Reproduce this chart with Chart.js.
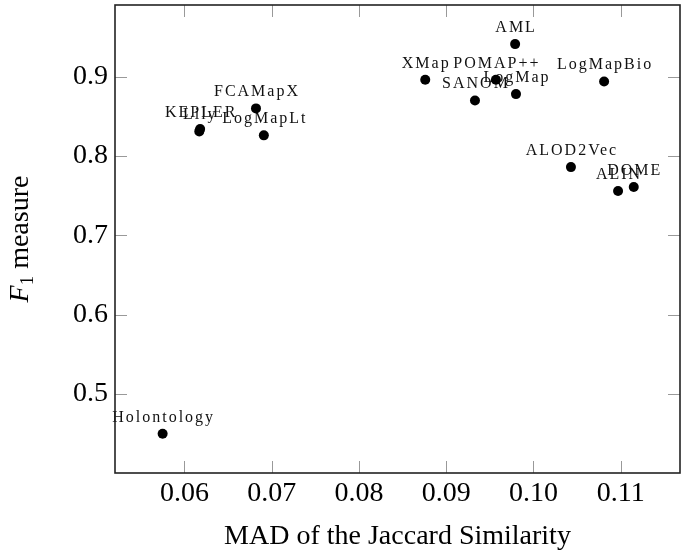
<!DOCTYPE html>
<html>
<head>
<meta charset="utf-8">
<script src="https://cdn.jsdelivr.net/npm/chart.js@4.4.1/dist/chart.umd.min.js"></script>
<style>
  html, body { margin: 0; padding: 0; background: #fff; }
  canvas { display: block; }
</style>
</head>
<body>
<canvas id="scatterChart" width="685" height="551"></canvas>
<script>
// systems and their values
const systems = ['AML', 'LogMap', 'LogMapBio', 'POMAP++', 'XMap', 'SANOM', 'FCAMapX',
                 'KEPLER', 'Lily', 'LogMapLt', 'ALOD2Vec', 'DOME', 'ALIN', 'Holontology'];
const madJaccard = [0.0979, 0.0980, 0.1081, 0.0957, 0.0876, 0.0933, 0.0682,
                    0.0618, 0.0617, 0.0691, 0.1043, 0.1115, 0.1097, 0.0575];
const f1Measure = [0.941, 0.878, 0.894, 0.896, 0.896, 0.870, 0.860,
                   0.834, 0.831, 0.826, 0.786, 0.761, 0.756, 0.450];

const xTicks = [0.06, 0.07, 0.08, 0.09, 0.10, 0.11];
const yTicks = [0.5, 0.6, 0.7, 0.8, 0.9];
const xRange = [0.05204, 0.1168];
const yRange = [0.4005, 0.9903];

const serif = '"Liberation Serif", "DejaVu Serif", serif';

// frame, inward ticks, y title and point labels
const pgfLook = {
    id: 'pgfLook',
    beforeDatasetsDraw(chart) {
        const ctx = chart.ctx;
        const meta = chart.getDatasetMeta(0);
        ctx.save();
        ctx.font = '16px ' + serif;
        ctx.letterSpacing = '2px';
        ctx.fillStyle = '#111';
        ctx.textAlign = 'center';
        ctx.textBaseline = 'alphabetic';
        meta.data.forEach((el, i) => {
            ctx.fillText(systems[i], el.x + 1, el.y - 12);
        });
        ctx.restore();
    },
    afterDraw(chart) {
        const ctx = chart.ctx;
        const {left, right, top, bottom} = chart.chartArea;
        const xs = chart.scales.x, ys = chart.scales.y;
        ctx.save();
        // ticks
        ctx.strokeStyle = '#999';
        ctx.lineWidth = 1;
        ctx.beginPath();
        xTicks.forEach(v => {
            const px = Math.round(xs.getPixelForValue(v)) + 0.5;
            ctx.moveTo(px, bottom); ctx.lineTo(px, bottom - 12);
            ctx.moveTo(px, top); ctx.lineTo(px, top + 12);
        });
        yTicks.forEach(v => {
            const py = Math.round(ys.getPixelForValue(v)) + 0.5;
            ctx.moveTo(left, py); ctx.lineTo(left + 12, py);
            ctx.moveTo(right, py); ctx.lineTo(right - 12, py);
        });
        ctx.stroke();
        // frame
        ctx.strokeStyle = '#222';
        ctx.lineWidth = 1.6;
        ctx.strokeRect(left, top, right - left, bottom - top);

        // y title: F_1 measure
        const cy = (top + bottom) / 2;
        ctx.translate(28, cy);
        ctx.rotate(-Math.PI / 2);
        ctx.fillStyle = '#000';
        ctx.textBaseline = 'alphabetic';
        ctx.textAlign = 'left';
        const fMain = '28px ' + serif, fItal = 'italic 28px ' + serif, fSub = '19px ' + serif;
        ctx.font = fItal; const wF = ctx.measureText('F').width;
        ctx.font = fSub; const w1 = ctx.measureText('1').width;
        ctx.font = fMain; const wM = ctx.measureText(' measure').width;
        let x0 = -(wF + w1 + wM) / 2;
        ctx.font = fItal; ctx.fillText('F', x0, 0); x0 += wF;
        ctx.font = fSub; ctx.fillText('1', x0, 5); x0 += w1;
        ctx.font = fMain; ctx.fillText(' measure', x0, 0);
        ctx.restore();
    }
};

const ctx = document.getElementById('scatterChart').getContext('2d');
new Chart(ctx, {
    type: 'scatter',
    data: {
        datasets: [{
            data: madJaccard.map((x, i) => ({x: x, y: f1Measure[i]})),
            backgroundColor: '#000',
            borderWidth: 0,
            pointRadius: 5,
            pointHoverRadius: 5
        }]
    },
    options: {
        responsive: false,
        animation: false,
        layout: { padding: { left: 0, top: 3, right: 3, bottom: 0 } },
        plugins: { legend: { display: false }, tooltip: { enabled: false } },
        scales: {
            x: {
                type: 'linear',
                min: xRange[0],
                max: xRange[1],
                afterBuildTicks: s => { s.ticks = xTicks.map(v => ({value: v})); },
                afterFit: s => { s.height = 78; s.paddingLeft = 0; s.paddingRight = 0; },
                grid: { display: false, drawTicks: false },
                border: { display: false },
                ticks: {
                    callback: v => v.toFixed(2),
                    font: { family: serif, size: 28 },
                    color: '#000',
                    padding: 4,
                    maxRotation: 0,
                    autoSkip: false
                },
                title: {
                    display: true,
                    text: 'MAD of the Jaccard Similarity',
                    font: { family: serif, size: 28, lineHeight: 1 },
                    color: '#000',
                    padding: { top: 0, bottom: 0 }
                }
            },
            y: {
                type: 'linear',
                min: yRange[0],
                max: yRange[1],
                afterBuildTicks: s => { s.ticks = yTicks.map(v => ({value: v})); },
                afterFit: s => { s.width = 115; s.paddingTop = 0; s.paddingBottom = 0; },
                grid: { display: false, drawTicks: false },
                border: { display: false },
                ticks: {
                    callback: v => v.toFixed(1),
                    font: { family: serif, size: 28 },
                    color: '#000',
                    padding: 7,
                    autoSkip: false
                }
            }
        }
    },
    plugins: [pgfLook]
});
</script>
</body>
</html>
